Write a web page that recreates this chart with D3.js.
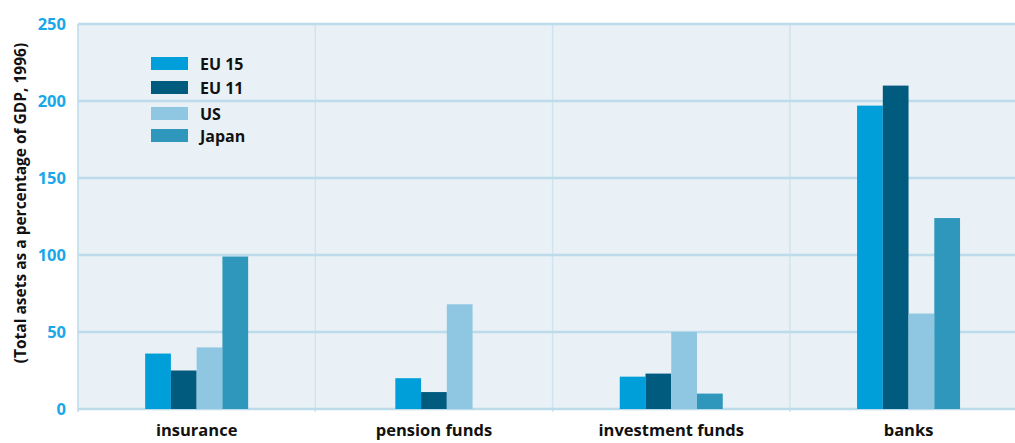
<!DOCTYPE html>
<html>
<head>
<meta charset="utf-8">
<script src="https://cdn.jsdelivr.net/npm/d3@7"></script>
<style>
  body { margin: 0; background: #fff; }
  svg { display: block; font-family: "Open Sans", sans-serif; }
</style>
</head>
<body>
<div id="chart"></div>
<script>
// data (null = no bar shown)
var categories = ["insurance", "pension funds", "investment funds", "banks"];
var seriesNames = ["EU 15", "EU 11", "US", "Japan"];
var eu15 = [36, 20, 21, 197];
var eu11 = [25, 11, 23, 210];
var us = [40, 68, 50, 62];
var japan = [99, null, 10, 124];
var yTicks = [0, 50, 100, 150, 200, 250];
var colors = ["#009fda", "#005b7f", "#8fc7e3", "#2e97bb"];

var seriesVals = [eu15, eu11, us, japan];

var W = 1015, H = 443;
var plotLeft = 78, plotTop = 24, plotBottom = 410;
var barW = 25.75;
var fontFam = "'Open Sans', sans-serif";

var svg = d3.select("#chart").append("svg")
	.attr("width", W)
	.attr("height", H);

var x0 = d3.scaleBand().domain(categories).range([plotLeft, plotLeft + 4 * 237.3]).padding(0);
var bw = x0.bandwidth();
var y = d3.scaleLinear().domain([0, 250]).range([409, plotTop]);

// plot background
svg.append("rect")
	.attr("x", plotLeft).attr("y", plotTop)
	.attr("width", W - plotLeft).attr("height", plotBottom - plotTop)
	.attr("fill", "#eaf1f6");

// vertical separators
svg.append("g").selectAll("line")
	.data(categories)
	.join("line")
	.attr("x1", function(d){ return x0(d); })
	.attr("x2", function(d){ return x0(d); })
	.attr("y1", plotTop).attr("y2", plotBottom + 2)
	.attr("stroke", function(d, i){ return i == 0 ? "#bcdbeb" : "#cfe4ef"; })
	.attr("stroke-width", 1.5);

// horizontal gridlines
svg.append("g").selectAll("line")
	.data(yTicks)
	.join("line")
	.attr("x1", plotLeft).attr("x2", W)
	.attr("y1", function(d){ return y(d); })
	.attr("y2", function(d){ return y(d); })
	.attr("stroke", "#bcdbeb")
	.attr("stroke-width", 2.5);

// y axis tick labels
var yAxis = d3.axisLeft(y).tickValues(yTicks).tickSize(0).tickPadding(12);
var ga = svg.append("g").attr("transform", "translate(" + plotLeft + ",0)").call(yAxis);
ga.select(".domain").remove();
ga.selectAll("text")
	.attr("fill", "#1aa7e8")
	.attr("font-size", 16.5)
	.attr("font-weight", "bold")
	.attr("font-family", fontFam);

// bars: each group only holds the series that have a value, centred in its band
var groups = svg.append("g").selectAll("g")
	.data(categories)
	.join("g")
	.attr("transform", function(d){ return "translate(" + x0(d) + ",0)"; });

groups.each(function(cat, i){
	var items = [];
	seriesNames.forEach(function(s, j){
		if (seriesVals[j][i] != null) items.push({ s: s, v: seriesVals[j][i], c: colors[j] });
	});
	var half = items.length * barW / 2;
	var x1 = d3.scaleBand().domain(items.map(function(d){ return d.s; }))
		.range([bw / 2 - half, bw / 2 + half]).padding(0);
	d3.select(this).selectAll("rect")
		.data(items)
		.join("rect")
		.attr("x", function(d){ return x1(d.s); })
		.attr("width", x1.bandwidth())
		.attr("y", function(d){ return y(d.v); })
		.attr("height", function(d){ return y(0) - y(d.v); })
		.attr("fill", function(d){ return d.c; });
});

// category labels
var xAxis = d3.axisBottom(x0).tickSize(0).tickPadding(14);
var gx = svg.append("g").attr("transform", "translate(0," + plotBottom + ")").call(xAxis);
gx.select(".domain").remove();
gx.selectAll("text")
	.attr("fill", "#111")
	.attr("font-size", 16.5)
	.attr("font-weight", "bold")
	.attr("font-family", fontFam);

// y axis title
svg.append("text")
	.attr("transform", "translate(26,203) rotate(-90)")
	.attr("text-anchor", "middle")
	.attr("font-size", 15.5)
	.attr("font-weight", "bold")
	.attr("fill", "#111")
	.text("(Total asets as a percentage of GDP, 1996)");

// legend
var legend = svg.append("g").attr("transform", "translate(151,57)");
var leg = legend.selectAll("g")
	.data(seriesNames)
	.join("g")
	.attr("transform", function(d, i){ return "translate(0," + [0, 24, 50, 72][i] + ")"; });
leg.append("rect")
	.attr("width", 37).attr("height", 13)
	.attr("fill", function(d, i){ return colors[i]; });
leg.append("text")
	.attr("x", 49).attr("y", 12.5)
	.attr("font-size", 16)
	.attr("font-weight", "bold")
	.attr("fill", "#111")
	.text(function(d){ return d; });
</script>
</body>
</html>
